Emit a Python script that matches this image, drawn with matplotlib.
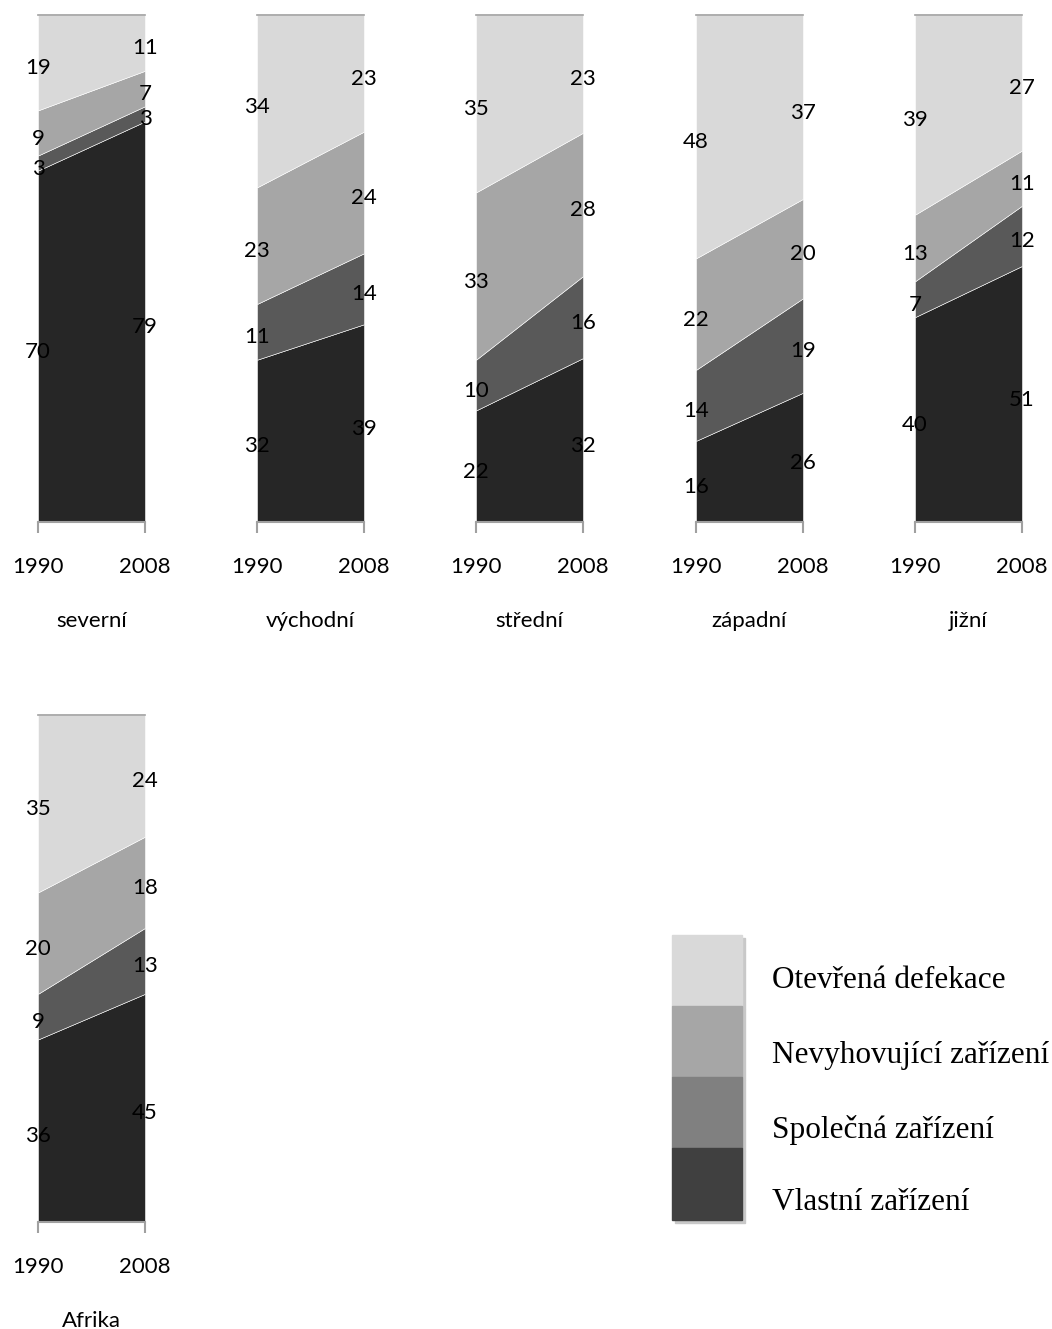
import matplotlib.pyplot as plt
from matplotlib.patches import Rectangle

years = ["1990", "2008"]
regions = ["severní", "východní", "střední", "západní", "jižní", "Afrika"]
series = ["Vlastní zařízení", "Společná zařízení", "Nevyhovující zařízení", "Otevřená defekace"]

# values per region: [own, shared, unimproved, open], for 1990 and 2008
own = [[70, 79], [32, 39], [22, 32], [16, 26], [40, 51], [36, 45]]
shared = [[3, 3], [11, 14], [10, 16], [14, 19], [7, 12], [9, 13]]
unimproved = [[9, 7], [23, 24], [33, 28], [22, 20], [13, 11], [20, 18]]
open_def = [[19, 11], [34, 23], [35, 23], [48, 37], [39, 27], [35, 24]]

area_colors = ["#262626", "#595959", "#a6a6a6", "#d9d9d9"]
legend_colors = ["#404040", "#808080", "#a6a6a6", "#d9d9d9"]

W, H = 1052, 1329
fig = plt.figure(figsize=(W / 100, H / 100), dpi=100)

label_font = "Lato"


def px_axes(x0, y0, x1, y1):
    return fig.add_axes([x0 / W, 1 - y1 / H, (x1 - x0) / W, (y1 - y0) / H])


positions = [(38, 15), (257, 15), (476, 15), (696, 15), (915, 15), (38, 715)]

for i, name in enumerate(regions):
    x0, y0 = positions[i]
    ax = px_axes(x0, y0, x0 + 107, y0 + 507)
    layers = [own[i], shared[i], unimproved[i], open_def[i]]
    # 100% stacked: scale each year to its total
    totals = [sum(l[j] for l in layers) for j in range(2)]
    pct = [[l[j] * 100 / totals[j] for j in range(2)] for l in layers]
    ax.stackplot([0, 1], pct, colors=area_colors, edgecolor="white", linewidth=0.4)
    ax.set_xlim(0, 1)
    ax.set_ylim(0, 100)
    ax.axhline(100, color="#a0a0a0", lw=1.2, clip_on=False, zorder=5)
    for s in ["top", "left", "right"]:
        ax.spines[s].set_visible(False)
    ax.spines["bottom"].set_color("#a0a0a0")
    ax.spines["bottom"].set_linewidth(1.5)
    ax.set_yticks([])
    ax.set_xticks([0, 1])
    ax.set_xticklabels(years, fontsize=16, family=label_font)
    ax.tick_params(axis="x", length=8, width=1.5, color="#a0a0a0", pad=17)
    ax.set_xlabel(name, fontsize=16, family=label_font, labelpad=25)

    # data labels in the middle of each band
    for j in range(2):
        base = 0
        for k, layer in enumerate(layers):
            p = pct[k][j]
            ax.annotate(str(layer[j]), (j, base + p / 2), xytext=(0, -4),
                        textcoords="offset points", ha="center", va="center",
                        fontsize=16, family=label_font, color="black", zorder=6,
                        annotation_clip=False)
            base += p

# legend
legend_y = [935, 1006, 1077, 1148, 1220]
text_y = [980, 1055, 1130, 1203]
lax = fig.add_axes([0, 0, 1, 1])
lax.set_xlim(0, W)
lax.set_ylim(H, 0)
lax.axis("off")
for k in range(4):
    idx = 3 - k
    top, bot = legend_y[k], legend_y[k + 1]
    lax.add_patch(Rectangle((675, top + 3), 70, bot - top, color="#c8c8c8", zorder=1))
    lax.add_patch(Rectangle((672, top), 70, bot - top, color=legend_colors[idx], zorder=2))
    lax.text(772, text_y[k], series[idx], fontsize=22.5, family="Liberation Serif",
             va="center", ha="left")

fig.savefig("out.png", dpi=100)
